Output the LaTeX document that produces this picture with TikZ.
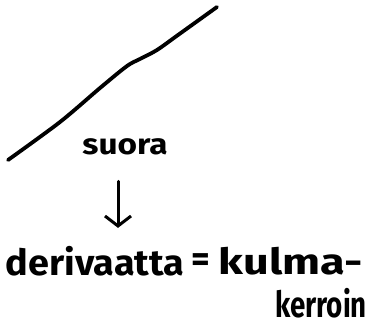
\documentclass[tikz,border=0pt]{standalone}
\usepackage{fontspec}
\setmainfont{Fira Sans}
\usetikzlibrary{arrows.meta, positioning}

\tikzset{
  pen/.style={line width=3.8pt, line cap=round, line join=round, black},
  hand/.style={inner sep=0pt, font=\bfseries\fontsize{36}{36}\selectfont},
  small hand/.style={inner sep=0pt, font=\bfseries\fontsize{29}{29}\selectfont},
}

\begin{document}
\begin{tikzpicture}[x=1pt,y=-1pt]
\useasboundingbox (0,0) rectangle (369,329);

\coordinate (L) at (8,160);
\coordinate (R) at (217,7);

% the straight line
\draw[pen] plot[smooth, tension=0.5] coordinates
  {(L) (60,122) (100,88) (127,66) (140,59) (157,50) (178,35) (R)};

\node[small hand, xscale=1.15] (suora) at (125,147) {suora};

\node[hand, xscale=1.05] (deriv) at (95,261) {derivaatta};
\node[hand] (eq) at (201,263) {=};
\node[hand, xscale=1.25] (kulma) at (291,261) {kulma-};
\node[hand, xscale=0.77] (kerroin) at (321,303) {kerroin};

\draw[line width=3pt, line cap=round,
      -{Straight Barb[length=10pt,width=26pt,line width=3pt]},
      shorten <=26pt, shorten >=18pt]
  ([xshift=-7pt]suora.south) -- ([xshift=23pt]deriv.north);
\end{tikzpicture}
\end{document}
